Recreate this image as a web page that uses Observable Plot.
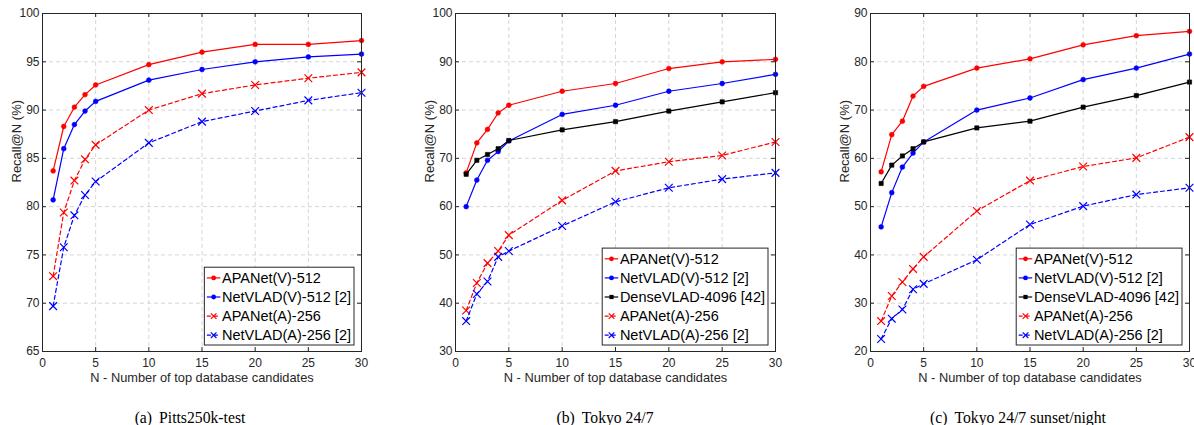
<!DOCTYPE html>
<html>
<head>
<meta charset="utf-8">
<script src="https://cdn.jsdelivr.net/npm/d3@7"></script>
<script src="https://cdn.jsdelivr.net/npm/@observablehq/plot@0.6"></script>
<style>
  body { margin: 0; background: #fff; overflow: hidden; }
  #fig { position: relative; width: 1194px; height: 425px; overflow: hidden; background: #fff; }
  .panel { position: absolute; top: 0; }
  .cap { position: absolute; top: 409px; font-family: "Liberation Serif", "DejaVu Serif", serif; font-size: 15.7px; line-height: 18px; color: #000; transform: translateX(-50%); white-space: nowrap; }
  .cap span + span { margin-left: 7px; }
</style>
</head>
<body>
<div id="fig"></div>
<script>
// ---------------- data ----------------
const N = [1, 2, 3, 4, 5, 10, 15, 20, 25, 30];
const xTicks = [0, 5, 10, 15, 20, 25, 30];
const xLabel = "N - Number of top database candidates";
const yLabel = "Recall@N (%)";

const seriesNames = ["APANet(V)-512", "NetVLAD(V)-512 [2]", "DenseVLAD-4096 [42]", "APANet(A)-256", "NetVLAD(A)-256 [2]"];

// (a) Pitts250k-test
const pittsApanetV  = [83.7, 88.3, 90.3, 91.6, 92.6, 94.7, 96.0, 96.8, 96.8, 97.2];
const pittsNetvladV = [80.7, 86.0, 88.5, 89.9, 90.9, 93.1, 94.2, 95.0, 95.5, 95.8];
const pittsApanetA  = [72.8, 79.4, 82.7, 84.9, 86.4, 90.0, 91.7, 92.6, 93.3, 93.9];
const pittsNetvladA = [69.7, 75.8, 79.1, 81.2, 82.6, 86.6, 88.8, 89.9, 91.0, 91.8];
const pittsYTicks = [65, 70, 75, 80, 85, 90, 95, 100];

// (b) Tokyo 24/7
const tokyoApanetV  = [67.0, 73.2, 76.0, 79.4, 81.0, 83.9, 85.5, 88.6, 90.0, 90.5];
const tokyoNetvladV = [60.0, 65.5, 69.6, 71.4, 73.6, 79.1, 81.0, 83.9, 85.5, 87.4];
const tokyoDense    = [66.7, 69.6, 70.8, 72.0, 73.7, 75.9, 77.6, 79.8, 81.7, 83.6];
const tokyoApanetA  = [38.5, 44.2, 48.3, 50.8, 54.1, 61.3, 67.4, 69.3, 70.6, 73.4];
const tokyoNetvladA = [36.3, 41.9, 44.5, 49.6, 50.8, 56.0, 61.0, 63.9, 65.7, 67.0];
const tokyoYTicks = [30, 40, 50, 60, 70, 80, 90, 100];

// (c) Tokyo 24/7 sunset/night
const nightApanetV  = [57.2, 64.9, 67.7, 72.9, 74.9, 78.7, 80.6, 83.5, 85.4, 86.3];
const nightNetvladV = [45.8, 52.9, 58.2, 61.1, 63.4, 70.0, 72.5, 76.3, 78.7, 81.6];
const nightDense    = [54.8, 58.6, 60.5, 62.0, 63.4, 66.3, 67.7, 70.6, 73.0, 75.8];
const nightApanetA  = [26.3, 31.5, 34.4, 37.1, 39.6, 49.1, 55.4, 58.3, 60.1, 64.4];
const nightNetvladA = [22.6, 26.8, 28.7, 32.9, 34.0, 39.0, 46.3, 50.1, 52.5, 53.9];
const nightYTicks = [20, 30, 40, 50, 60, 70, 80, 90];

const captions = [["(a)", "Pitts250k-test"], ["(b)", "Tokyo 24/7"], ["(c)", "Tokyo 24/7 sunset/night"]];

// ---------------- styles ----------------
const styleOf = {
  "APANet(V)-512":       {color: "#ff0000", dash: null,  symbol: "circle", r: 2.4, filled: true},
  "NetVLAD(V)-512 [2]":  {color: "#0000ff", dash: null,  symbol: "circle", r: 2.4, filled: true},
  "DenseVLAD-4096 [42]": {color: "#000000", dash: null,  symbol: "square", r: 2.4, filled: true},
  "APANet(A)-256":       {color: "#ff0000", dash: "4,3", symbol: "times",  r: 3.6, filled: false},
  "NetVLAD(A)-256 [2]":  {color: "#0000ff", dash: "4,3", symbol: "times",  r: 3.6, filled: false}
};

const panels = [
  {left: 0,   width: 381, yDomain: [65, 100], yTicks: pittsYTicks,
   series: [[seriesNames[0], pittsApanetV], [seriesNames[1], pittsNetvladV], [seriesNames[3], pittsApanetA], [seriesNames[4], pittsNetvladA]],
   capX: 190},
  {left: 413, width: 382, yDomain: [30, 100], yTicks: tokyoYTicks,
   series: [[seriesNames[0], tokyoApanetV], [seriesNames[1], tokyoNetvladV], [seriesNames[2], tokyoDense], [seriesNames[3], tokyoApanetA], [seriesNames[4], tokyoNetvladA]],
   capX: 605},
  {left: 828, width: 381, yDomain: [20, 90], yTicks: nightYTicks,
   series: [[seriesNames[0], nightApanetV], [seriesNames[1], nightNetvladV], [seriesNames[2], nightDense], [seriesNames[3], nightApanetA], [seriesNames[4], nightNetvladA]],
   capX: 1018}
];

const H = 395, mL = 42, mR = 20, mT = 13, mB = 44;
const axisColor = "#262626";
const gridColor = "#d6d6d6";
const fig = document.getElementById("fig");

panels.forEach((p, pi) => {
  const plotW = p.width - mL - mR;
  const plotH = H - mT - mB;
  const marks = [
    Plot.gridX(xTicks, {stroke: gridColor, strokeOpacity: 1, strokeDasharray: "4,3"}),
    Plot.gridY(p.yTicks, {stroke: gridColor, strokeOpacity: 1, strokeDasharray: "4,3"}),
    // inward ticks (MATLAB style) on all four sides
    Plot.tickX(xTicks, {x: d => d, insetTop: plotH - 4, stroke: axisColor}),
    Plot.tickX(xTicks, {x: d => d, insetBottom: plotH - 4, stroke: axisColor}),
    Plot.tickY(p.yTicks, {y: d => d, insetRight: plotW - 4, stroke: axisColor}),
    Plot.tickY(p.yTicks, {y: d => d, insetLeft: plotW - 4, stroke: axisColor}),
    Plot.axisX(xTicks, {tickSize: 0, tickPadding: 6.5, label: null, fill: axisColor}),
    Plot.axisY(p.yTicks, {tickSize: 0, tickPadding: 3, label: null, fill: axisColor}),
    Plot.text([xLabel], {frameAnchor: "bottom", dy: 30.5, text: d => d, fontSize: 12.8, fill: axisColor}),
    Plot.text([yLabel], {frameAnchor: "left", dx: -26, rotate: -90, text: d => d, fontSize: 13, fill: axisColor})
  ];
  p.series.forEach(([name, vals]) => {
    const st = styleOf[name];
    const data = N.map((n, i) => ({n, v: vals[i]}));
    marks.push(Plot.line(data, {x: "n", y: "v", stroke: st.color, strokeWidth: 1.2, strokeDasharray: st.dash}));
    marks.push(Plot.dot(data, st.filled
      ? {x: "n", y: "v", symbol: st.symbol, r: st.r, fill: st.color, stroke: st.color, strokeWidth: 0.6}
      : {x: "n", y: "v", symbol: st.symbol, r: st.r, stroke: st.color, strokeWidth: 1.2}));
  });
  marks.push(Plot.frame({stroke: axisColor, strokeWidth: 1}));

  const svg = Plot.plot({
    width: p.width, height: H,
    marginLeft: mL, marginRight: mR, marginTop: mT, marginBottom: mB,
    style: {fontFamily: "'Liberation Sans', Arial, Helvetica, sans-serif", fontSize: "12px", color: axisColor, background: "transparent", overflow: "visible"},
    x: {domain: [0, 30]},
    y: {domain: p.yDomain},
    marks
  });
  svg.classList.add("panel");
  svg.style.left = p.left + "px";
  fig.appendChild(svg);

  // legend
  const rowH = 19.1, textX = 17.7;
  const names = p.series.map(s => s[0]);
  const g = d3.select(svg).append("g")
    .attr("font-family", "'Liberation Sans', Arial, Helvetica, sans-serif")
    .attr("font-size", 14.5)
    .attr("text-anchor", "start");
  const rect = g.append("rect").attr("fill", "white").attr("stroke", axisColor).attr("stroke-width", 1);
  const texts = [];
  names.forEach((name, i) => {
    const st = styleOf[name];
    const cy = 10.7 + i * rowH;
    const row = g.append("g").attr("transform", `translate(0,${cy})`);
    row.append("line").attr("x1", 2.5).attr("x2", 16).attr("y1", 0).attr("y2", 0)
      .attr("stroke", st.color).attr("stroke-width", 1.2).attr("stroke-dasharray", st.dash);
    if (st.symbol === "circle") row.append("circle").attr("cx", 9.3).attr("cy", 0).attr("r", st.r).attr("fill", st.color);
    else if (st.symbol === "square") row.append("rect").attr("x", 9.3 - 2.1).attr("y", -2.1).attr("width", 4.2).attr("height", 4.2).attr("fill", st.color);
    else row.append("path").attr("d", "M6.5,-2.8L12.1,2.8M6.5,2.8L12.1,-2.8").attr("stroke", st.color).attr("stroke-width", 1.2);
    const t = row.append("text").attr("x", textX).attr("y", 0).attr("dy", "0.35em")
      .attr("text-anchor", "start").attr("fill", "#000").text(name);
    texts.push(t);
  });
  const maxW = d3.max(texts, t => t.node().getComputedTextLength());
  const boxW = textX + maxW + 3;
  const boxH = 1.4 + names.length * rowH;
  const right = mL + plotW - 7, bottom = mT + plotH - 6;
  g.attr("transform", `translate(${right - boxW},${bottom - boxH})`);
  rect.attr("x", 0).attr("y", 0).attr("width", boxW).attr("height", boxH);

  // caption
  const cap = document.createElement("div");
  cap.className = "cap";
  cap.style.left = p.capX + "px";
  cap.innerHTML = `<span>${captions[pi][0]}</span><span>${captions[pi][1]}</span>`;
  fig.appendChild(cap);
});
</script>
</body>
</html>
